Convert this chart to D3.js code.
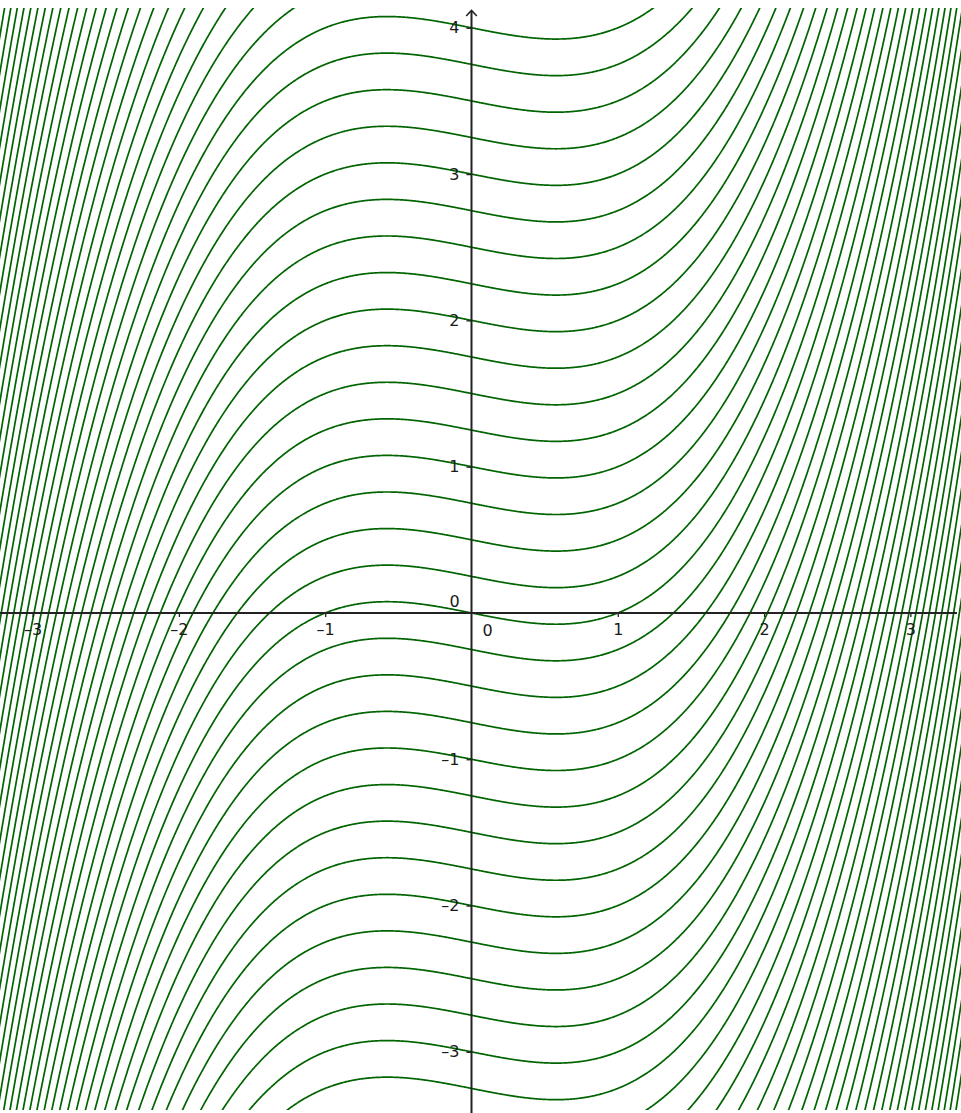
<!DOCTYPE html>
<html>
<head>
<meta charset="utf-8">
<script src="https://cdn.jsdelivr.net/npm/d3@7"></script>
<style>
  body { margin: 0; background: #fff; }
  svg { display: block; }
  .tick text, .zero { font-family: "DejaVu Sans", sans-serif; font-size: 16px; fill: #1a1a1a; }
</style>
</head>
<body>
<div id="chart"></div>
<script>
// curve family y = a0 + a1 x + a2 x^2 + a3 x^3 + c
var coeffs = [0, -0.2, 0, 0.2];
var offsetStep = 0.25;
var offsetMin = -10.5, offsetMax = 10.5;
var xTicks = [-3, -2, -1, 1, 2, 3];
var yTicks = [-3, -2, -1, 1, 2, 3, 4];

var width = 961, height = 1113;

var x = d3.scaleLinear().domain([-3.223, 3.346]).range([0, width]);
var y = d3.scaleLinear().domain([-3.418, 4.190]).range([height, 0]);

function f(t) {
  var s = 0;
  for (var k = 0; k < coeffs.length; k++) s += coeffs[k] * Math.pow(t, k);
  return s;
}

var offsets = d3.range(offsetMin, offsetMax + offsetStep / 2, offsetStep);
var xs = d3.range(0, 1201).map(function (i) { return -3.3 + i * (6.7 / 1200); });

var svg = d3.select("#chart").append("svg")
  .attr("width", width)
  .attr("height", height);

svg.append("defs").append("clipPath").attr("id", "clip")
  .append("rect").attr("x", 0).attr("y", 8).attr("width", width).attr("height", 1102);

var line = d3.line()
  .x(function (d) { return x(d[0]); })
  .y(function (d) { return y(d[1]); });

svg.append("g").attr("clip-path", "url(#clip)")
  .selectAll("path")
  .data(offsets).enter()
  .append("path")
  .attr("d", function (c) { return line(xs.map(function (t) { return [t, f(t) + c]; })); })
  .attr("fill", "none")
  .attr("stroke", "#006400")
  .attr("stroke-width", 1.7);

function fmt(d) { return d < 0 ? "\u2013" + (-d) : "" + d; }

// axes
var gx = svg.append("g").attr("transform", "translate(0," + y(0) + ")")
  .call(d3.axisBottom(x).tickValues(xTicks).tickSize(4).tickPadding(7).tickFormat(fmt));
var gy = svg.append("g").attr("transform", "translate(" + x(0) + ",0)")
  .call(d3.axisLeft(y).tickValues(yTicks).tickSize(5).tickPadding(7).tickFormat(fmt));
[gx, gy].forEach(function (g) {
  g.select(".domain").remove();
  g.selectAll(".tick line").attr("stroke", "#222").attr("stroke-width", 1.3);
});

svg.append("line")
  .attr("x1", 0).attr("x2", 957).attr("y1", y(0)).attr("y2", y(0))
  .attr("stroke", "#222").attr("stroke-width", 2);
svg.append("line")
  .attr("x1", x(0)).attr("x2", x(0)).attr("y1", 11).attr("y2", height)
  .attr("stroke", "#222").attr("stroke-width", 2);
svg.append("path")
  .attr("d", "M" + (x(0) - 5.3) + ",16 L" + x(0) + ",10.5 L" + (x(0) + 5.3) + ",16")
  .attr("fill", "none").attr("stroke", "#222").attr("stroke-width", 1.6);

svg.append("text").attr("class", "zero").attr("x", x(0) - 17).attr("y", y(0) - 6)
  .attr("text-anchor", "middle").text("0");
svg.append("text").attr("class", "zero").attr("x", x(0) + 16).attr("y", y(0) + 23)
  .attr("text-anchor", "middle").text("0");
</script>
</body>
</html>
